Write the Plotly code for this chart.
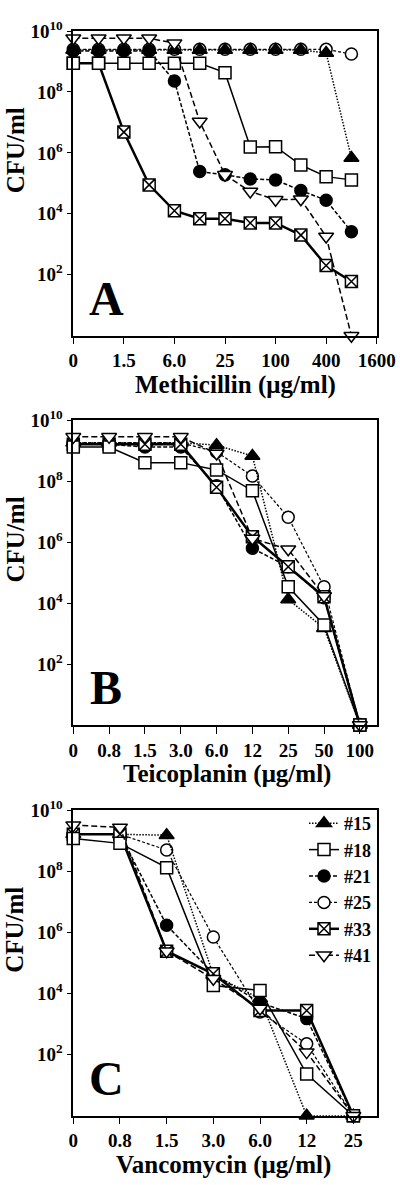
import plotly.graph_objects as go

# ---------------- data ----------------
strains = ["#15", "#18", "#21", "#25", "#33", "#41"]

# Panel A: methicillin
meth_conc = ["0", "0.75", "1.5", "3.0", "6.0", "12", "25", "50", "100", "200", "400", "800"]
meth_ticks = ["0", "1.5", "6.0", "25", "100", "400", "1600"]
meth = {
    "#15": [2.4e9, 2.4e9, 2.4e9, 2.4e9, 2.4e9, 2.4e9, 2.4e9, 2.4e9, 2.4e9, 2.4e9, 1.9e9, 6.8e5],
    "#18": [8.7e8, 8.7e8, 8.7e8, 8.7e8, 8.7e8, 8.7e8, 4.3e8, 1.55e6, 1.6e6, 4.0e5, 1.66e5, 1.3e5],
    "#21": [2.2e9, 2.2e9, 2.2e9, 2.2e9, 2.3e8, 2.45e5, 1.9e5, 1.4e5, 1.3e5, 5.8e4, 2.8e4, 2.6e3],
    "#25": [2.5e9, 2.5e9, 2.5e9, 2.5e9, 2.5e9, 2.5e9, 2.5e9, 2.5e9, 2.5e9, 2.5e9, 2.5e9, 1.75e9],
    "#33": [8.7e8, 8.7e8, 4.8e6, 8.9e4, 1.26e4, 6.9e3, 6.9e3, 5.0e3, 5.0e3, 2.0e3, 2.0e2, 6.0e1],
    "#41": [5.75e9, 5.75e9, 5.75e9, 5.75e9, 4.0e9, 1.07e7, 1.9e5, 5.4e4, 2.9e4, 3.0e4, 1.8e3, 1.0],
}

# Panel B: teicoplanin
teic_conc = ["0", "0.8", "1.5", "3.0", "6.0", "12", "25", "50", "100"]
teic = {
    "#15": [1.8e9, 1.8e9, 1.8e9, 1.8e9, 1.5e9, 6.6e8, 1.3e4, 1.5e3, 1.0],
    "#18": [1.3e9, 1.3e9, 4.0e8, 4.0e8, 2.3e8, 4.8e7, 3.4e4, 1.9e3, 1.0],
    "#21": [1.6e9, 1.6e9, 1.3e9, 1.3e9, 7.0e7, 6.2e5, 1.55e5, 1.5e4, 1.0],
    "#25": [1.8e9, 1.8e9, 1.8e9, 1.8e9, 9.0e8, 1.45e8, 6.5e6, 3.4e4, 1.0],
    "#33": [1.6e9, 1.6e9, 1.6e9, 1.6e9, 6.2e7, 1.5e6, 1.55e5, 1.6e4, 1.0],
    "#41": [2.8e9, 2.8e9, 2.8e9, 2.8e9, 8.0e8, 1.3e6, 5.8e5, 1.7e4, 1.0],
}

# Panel C: vancomycin
vanc_conc = ["0", "0.8", "1.5", "3.0", "6.0", "12", "25"]
vanc = {
    "#15": [1.6e9, 1.6e9, 1.5e9, 4.0e4, 6.8e3, 1.0, 1.0],
    "#18": [1.17e9, 8.1e8, 1.3e8, 1.8e4, 1.25e4, 2.3e1, 1.0],
    "#21": [1.6e9, 1.6e9, 1.7e6, 4.4e4, 5.0e3, 1.5e3, 1.0],
    "#25": [1.6e9, 1.6e9, 4.9e8, 7.0e5, 2.45e3, 2.24e2, 1.0],
    "#33": [1.6e9, 1.6e9, 2.4e5, 4.4e4, 2.75e3, 2.75e3, 1.0],
    "#41": [3.2e9, 2.7e9, 2.4e5, 3.0e4, 3.2e3, 1.2e2, 1.0],
}

y_tickvals = [1e2, 1e4, 1e6, 1e8, 1e10]
y_ticktext = ["10<sup>2</sup>", "10<sup>4</sup>", "10<sup>6</sup>", "10<sup>8</sup>", "10<sup>10</sup>"]

# ---------------- styles ----------------
FONT = "Liberation Serif"
style = {
    "#15": dict(symbol="triangle-up", fill="black", dash="1.5px,1.5px", lw=1.5, ms=13),
    "#18": dict(symbol="square", fill="white", dash="solid", lw=1.5, ms=12),
    "#21": dict(symbol="circle", fill="black", dash="4px,2px", lw=1.5, ms=12),
    "#25": dict(symbol="circle", fill="white", dash="3px,2px", lw=1.2, ms=12),
    "#33": dict(symbol="square-x", fill="white", dash="solid", lw=2.5, ms=12),
    "#41": dict(symbol="triangle-down", fill="white", dash="6px,3px", lw=1.5, ms=13),
}
draw_order = ["#25", "#21", "#15", "#33", "#18", "#41"]

fig = go.Figure()

panels = [
    (meth_conc, meth, "x", "y", False),
    (teic_conc, teic, "x2", "y2", False),
    (vanc_conc, vanc, "x3", "y3", True),
]
for conc, data, xa, ya, legend in panels:
    xpos = list(range(len(conc)))
    for s in draw_order:
        st = style[s]
        fig.add_trace(go.Scatter(
            x=xpos, y=data[s], xaxis=xa, yaxis=ya, mode="lines+markers",
            name=s, showlegend=legend, legendrank=strains.index(s),
            cliponaxis=False,
            line=dict(color="black", width=st["lw"], dash=st["dash"]),
            marker=dict(symbol=st["symbol"], size=st["ms"], color=st["fill"],
                        line=dict(color="black", width=1.5)),
        ))

W, H = 400, 1185
xl, xr = 73.3 / W, 376.7 / W
doms = [(31, 335.7), (420, 725), (810, 1115.7)]


def ydom(t, b):
    return [1 - b / H, 1 - t / H]


tickfont = dict(family=FONT, size=19, color="black", weight="bold")
common_x = dict(showgrid=False, zeroline=False, showline=True, linecolor="black",
                linewidth=1.5, mirror=True, ticks="outside", ticklen=7, tickwidth=1.2,
                tickcolor="black", tickfont=tickfont, tickmode="array")
common_y = dict(type="log", range=[0, 10], showgrid=False, zeroline=False, showline=True,
                linecolor="black", linewidth=1.5, mirror=True, ticks="outside", ticklen=5,
                tickwidth=1.2, tickcolor="black", tickfont=tickfont, tickmode="array",
                tickvals=y_tickvals, ticktext=y_ticktext)

meth_tickpos = [2 * i for i in range(len(meth_ticks))]
fig.update_layout(
    xaxis=dict(common_x, domain=[xl, xr], anchor="y", range=[0, 12],
               tickvals=meth_tickpos, ticktext=meth_ticks),
    yaxis=dict(common_y, domain=ydom(*doms[0]), anchor="x"),
    xaxis2=dict(common_x, domain=[xl, xr], anchor="y2", range=[0, 8.47],
                tickvals=list(range(len(teic_conc))), ticktext=teic_conc),
    yaxis2=dict(common_y, domain=ydom(*doms[1]), anchor="x2"),
    xaxis3=dict(common_x, domain=[xl, xr], anchor="y3", range=[0, 6.5],
                tickvals=list(range(len(vanc_conc))), ticktext=vanc_conc),
    yaxis3=dict(common_y, domain=ydom(*doms[2]), anchor="x3"),
)

annos = []
xtitles = ["Methicillin (μg/ml)", "Teicoplanin (μg/ml)", "Vancomycin (μg/ml)"]
xtitle_cx = [235, 227, 223]
letters = ["A", "B", "C"]
for (t, b), xt, cx, let in zip(doms, xtitles, xtitle_cx, letters):
    annos.append(dict(text=xt, x=cx / W, y=1 - (b + 49) / H, xref="paper", yref="paper",
                      showarrow=False, xanchor="center", yanchor="middle",
                      font=dict(family=FONT, size=25, color="black", weight="bold")))
    annos.append(dict(text="CFU/ml", x=15 / W, y=1 - ((t + b) / 2 - 33) / H, xref="paper",
                      yref="paper", showarrow=False, textangle=-90, xanchor="center",
                      yanchor="middle",
                      font=dict(family=FONT, size=25, color="black", weight="bold")))
    annos.append(dict(text=let, x=106 / W, y=1 - (b - 37) / H, xref="paper", yref="paper",
                      showarrow=False, xanchor="center", yanchor="middle",
                      font=dict(family=FONT, size=48, color="black", weight="bold")))

fig.update_layout(
    width=W, height=H, autosize=False,
    margin=dict(l=0, r=0, t=0, b=0, autoexpand=False),
    paper_bgcolor="white", plot_bgcolor="white",
    annotations=annos,
    legend=dict(x=304 / W, y=1 - 805 / H, xanchor="left", yanchor="top",
                bgcolor="rgba(0,0,0,0)", borderwidth=0, tracegroupgap=0,
                traceorder="normal",
                font=dict(family=FONT, size=18, color="black", weight="bold")),
)

fig.write_html("out.html", config={"displayModeBar": False},
               post_script="document.body.style.margin='0';document.body.style.padding='0';")
